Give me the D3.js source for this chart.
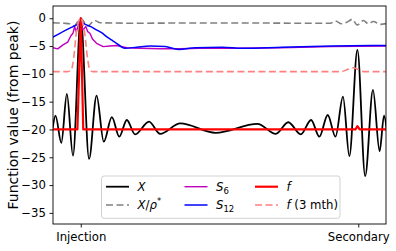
<!DOCTYPE html>
<html>
<head>
<meta charset="utf-8">
<script src="https://cdn.jsdelivr.net/npm/d3@7"></script>
<style>
  body { margin: 0; background: #fff; }
  svg { display: block; font-family: "DejaVu Sans", sans-serif; }
</style>
</head>
<body>
<div id="chart"></div>
<script>
// time axis: 0 = injection, 1 = secondary
var xTicks = [0, 1];
var xTickLabels = ["Injection", "Secondary"];
var yTicks = [0, -5, -10, -15, -20, -25, -30, -35];

// X (black)
var xT = [-0.101, -0.091, -0.070, -0.050, -0.028, 0, 0.030, 0.057, 0.083, 0.112, 0.139, 0.166, 0.196,
          0.246, 0.286, 0.359, 0.486, 0.637, 0.703, 0.748, 0.793, 0.830, 0.860, 0.890, 0.918, 0.945,
          0.968, 0.997, 1.025, 1.053, 1.077, 1.093, 1.105];
var xV = [-19.7, -17.5, -22.4, -13.6, -24.7, 0, -25.3, -13.9, -22.2, -17.8, -21.3, -18.3, -20.9,
          -18.6, -20.8, -18.9, -20.6, -19.0, -20.8, -18.7, -20.9, -18.3, -21.3, -17.4, -21.3, -14.1,
          -24.8, -5.7, -28.4, -12.9, -23.9, -17.5, -21.3];

// X / rho* (grey dashed)
var rhoT = [-0.101, -0.06, -0.04, -0.025, 0, 0.025, 0.05, 0.07, 0.2, 0.4, 0.6, 0.8, 0.86, 0.9, 0.917,
            0.94, 0.96, 0.978, 0.996, 1.019, 1.036, 1.054, 1.08, 1.105];
var rhoV = [-0.8, -0.9, -1.0, -1.4, 0, -1.4, -0.4, -0.8, -0.9, -0.85, -0.85, -0.9, -0.9, -0.9, -0.5,
            -1.0, -0.7, -0.2, -1.2, -0.4, -1.0, -0.6, -1.1, -0.9];

// S6 (magenta)
var s6T = [-0.101, -0.083, -0.064, -0.047, -0.036, -0.028, -0.022, -0.016, -0.009, -0.001, 0.004, 0.008,
           0.018, 0.025, 0.033, 0.043, 0.057, 0.081, 0.105, 0.129, 0.166, 0.214, 0.286, 0.359, 0.431,
           0.576, 0.721, 0.902, 1.105];
var s6V = [-5.3, -5.5, -4.8, -4.3, -3.2, -2.7, -1.5, -2.5, -1.2, -0.3, -1.6, -2.1,
           -1.5, -2.4, -2.7, -3.8, -4.5, -5.1, -5.0, -4.9, -5.3, -5.4, -5.5, -5.5, -5.4,
           -5.4, -5.3, -5.1, -5.0];

// S12 (blue)
var s12T = [-0.101, -0.085, -0.064, -0.045, -0.028, -0.012, -0.001, 0.010, 0.021, 0.040, 0.057, 0.075,
            0.093, 0.111, 0.129, 0.159, 0.202, 0.25, 0.304, 0.353, 0.413, 0.51, 0.582, 0.727, 0.902, 1.105];
var s12V = [-3.4, -3.0, -2.4, -1.9, -1.5, -1.1, -0.6, -0.9, -1.2, -1.6, -2.1, -2.6,
            -3.3, -3.9, -4.5, -5.4, -5.2, -5.0, -5.1, -5.6, -5.3, -5.2, -5.4, -5.2, -5.0, -4.9];

// f (red)
var fT = [-0.101, -0.012, 0, 0.009, 0.99, 0.997, 1.005, 1.105];
var fV = [-20, -20, 0, -20, -20, -19.4, -20, -20];

// f (3 mth) (light red dashed)
var f3T = [-0.101, -0.047, -0.034, -0.025, -0.016, -0.009, 0, 0.007, 0.014, 0.024, 0.033, 0.043,
           0.6, 0.938, 0.957, 0.981, 1.0, 1.022, 1.105];
var f3V = [-9.6, -9.6, -9.3, -7.0, -2.6, -0.8, 0, -0.8, -2.6, -7.0, -9.3, -9.6,
           -9.6, -9.6, -9.3, -8.9, -9.2, -9.6, -9.6];

var W = 396, H = 251;
var margin = {top: 6, right: 10, bottom: 27, left: 53};
var width = 386 - margin.left, height = 224 - margin.top;

var svg = d3.select("#chart").append("svg")
    .attr("width", W)
    .attr("height", H);

var g = svg.append("g")
    .attr("transform", "translate(" + margin.left + "," + margin.top + ")");

var x = d3.scaleLinear().domain([-0.1, 1.1]).range([0, width]);
var y = d3.scaleLinear().domain([-37, 2.2]).range([height, 0]);

g.append("clipPath").attr("id", "clip")
  .append("rect").attr("width", width).attr("height", height);

var series = [
  {t: xT, v: xV, color: "#000000", w: 1.8, dash: null, curve: d3.curveMonotoneX},
  {t: rhoT, v: rhoV, color: "#808080", w: 1.6, dash: "7,3.5", curve: d3.curveMonotoneX},
  {t: s6T, v: s6V, color: "#bf00bf", w: 1.4, dash: null, curve: d3.curveLinear},
  {t: s12T, v: s12V, color: "#0000ff", w: 1.5, dash: null, curve: d3.curveMonotoneX},
  {t: fT, v: fV, color: "#ff0000", w: 2.2, dash: null, curve: d3.curveLinear},
  {t: f3T, v: f3V, color: "#ff8080", w: 1.6, dash: "7,3.5", curve: d3.curveMonotoneX}
];

var lines = g.append("g").attr("clip-path", "url(#clip)");
series.forEach(function(s) {
  var pts = s.t.map(function(t, i) { return [t, s.v[i]]; });
  lines.append("path")
    .datum(pts)
    .attr("fill", "none")
    .attr("stroke", s.color)
    .attr("stroke-width", s.w)
    .attr("stroke-dasharray", s.dash)
    .attr("stroke-linejoin", "round")
    .attr("d", d3.line()
      .x(function(d) { return x(d[0]); })
      .y(function(d) { return y(d[1]); })
      .curve(s.curve));
});

// axes
var fmt = function(d) { return d < 0 ? "\u2212" + Math.abs(d) : d; };
var yAxis = g.append("g")
    .call(d3.axisLeft(y).tickValues(yTicks).tickFormat(fmt).tickSize(3.5).tickPadding(3.5));
var xAxis = g.append("g")
    .attr("transform", "translate(0," + height + ")")
    .call(d3.axisBottom(x).tickValues(xTicks).tickFormat(function(d, i) { return xTickLabels[i]; })
      .tickSize(3.5).tickPadding(5));
[xAxis, yAxis].forEach(function(a) {
  a.selectAll("text").attr("font-size", "11.7px").attr("font-family", "DejaVu Sans").attr("fill", "#000");
  a.selectAll("line").attr("stroke", "#000").attr("stroke-width", 0.9);
  a.select(".domain").remove();
});

g.append("rect")
  .attr("width", width).attr("height", height)
  .attr("fill", "none").attr("stroke", "#000").attr("stroke-width", 0.9);

svg.append("text")
  .attr("transform", "translate(18," + (margin.top + height / 2) + ") rotate(-90)")
  .attr("text-anchor", "middle")
  .attr("font-size", "14px")
  .text("Function value (from peak)");

// legend
var leg = svg.append("g").attr("transform", "translate(101.5,176)");
leg.append("rect")
  .attr("width", 238.5).attr("height", 42.3).attr("rx", 2.5)
  .attr("fill", "#fff").attr("fill-opacity", 0.8)
  .attr("stroke", "#cccccc").attr("stroke-width", 0.9);

var legItems = [
  {col: 0, row: 0, s: 0, parts: [["X", "i"]]},
  {col: 0, row: 1, s: 1, parts: [["X", "i"], ["/", ""], ["\u03c1", "i"], ["*", "sup"]]},
  {col: 1, row: 0, s: 2, parts: [["S", "i"], ["6", "sub"]]},
  {col: 1, row: 1, s: 3, parts: [["S", "i"], ["12", "sub"]]},
  {col: 2, row: 0, s: 4, parts: [["f", "i"]]},
  {col: 2, row: 1, s: 5, parts: [["f", "i"], [" (3 mth)", ""]]}
];
var colX = [4.5, 83, 153.5];
var rowY = [10.7, 29];
legItems.forEach(function(it) {
  var s = series[it.s];
  var lx = colX[it.col], ly = rowY[it.row];
  leg.append("line")
    .attr("x1", lx).attr("x2", lx + 23)
    .attr("y1", ly).attr("y2", ly)
    .attr("stroke", s.color)
    .attr("stroke-width", s.w)
    .attr("stroke-dasharray", s.dash);
  var t = leg.append("text")
    .attr("x", lx + 31.5).attr("y", ly + 4.2)
    .attr("font-size", "11.7px");
  it.parts.forEach(function(p) {
    var ts = t.append("tspan").text(p[0]);
    if (p[1] === "i") ts.attr("font-style", "italic");
    if (p[1] === "sub") ts.attr("font-size", "8.5px").attr("dy", 3);
    if (p[1] === "sup") ts.attr("font-size", "8.5px").attr("dy", -5);
  });
});
</script>
</body>
</html>
